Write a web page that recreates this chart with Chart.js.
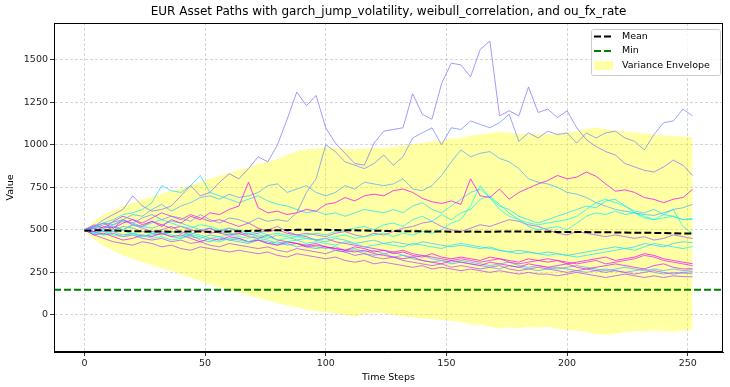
<!DOCTYPE html>
<html>
<head>
<meta charset="utf-8">
<script src="https://cdn.jsdelivr.net/npm/chart.js@4.4.0/dist/chart.umd.min.js"></script>
<style>
  html, body { margin: 0; padding: 0; background: #fff; }
</style>
</head>
<body>
<canvas id="pathChart" width="730" height="387"></canvas>
<script>

var chartTitle = "EUR Asset Paths with garch_jump_volatility, weibull_correlation, and ou_fx_rate";

// sampled time steps (every 4th step of 0..252)
var timeSteps = [
  0, 4, 8, 12, 16, 20, 24, 28, 32, 36, 40, 44, 48, 52, 56, 60,
  64, 68, 72, 76, 80, 84, 88, 92, 96, 100, 104, 108, 112, 116, 120, 124,
  128, 132, 136, 140, 144, 148, 152, 156, 160, 164, 168, 172, 176, 180, 184, 188,
  192, 196, 200, 204, 208, 212, 216, 220, 224, 228, 232, 236, 240, 244, 248, 252
];

var xTicks = [0, 50, 100, 150, 200, 250];
var yTicks = [0, 250, 500, 750, 1000, 1250, 1500];

var meanValues = [
  495, 497, 498, 496, 494, 492, 491, 490,
  490, 489, 490, 491, 490, 489, 490, 491,
  492, 494, 495, 497, 498, 499, 500, 501,
  501, 500, 499, 498, 497, 496, 495, 494,
  493, 492, 492, 491, 490, 490, 489, 489,
  490, 489, 489, 490, 490, 490, 489, 489,
  489, 488, 488, 487, 487, 486, 486, 485,
  484, 483, 483, 482, 481, 480, 479, 478
];

var minValue = 148;

var envelopeUpper = [
  500, 550, 590, 615, 640, 660, 680, 695,
  712, 728, 745, 762, 780, 800, 818, 835,
  852, 868, 885, 900, 915, 940, 962, 972,
  978, 985, 980, 976, 972, 978, 982, 980,
  988, 995, 1005, 1010, 1018, 1025, 1035, 1042,
  1055, 1062, 1070, 1078, 1070, 1065, 1060, 1065,
  1062, 1068, 1072, 1080, 1095, 1100, 1092, 1085,
  1078, 1072, 1068, 1060, 1055, 1052, 1048, 1045
];

var envelopeLower = [
  490, 445, 405, 378, 350, 330, 310, 292,
  275, 258, 238, 220, 200, 180, 162, 148,
  132, 116, 100, 85, 70, 55, 45, 30,
  22, 15, 10, 0, -10, 5, 12, 8,
  0, -8, -15, -20, -25, -30, -35, -42,
  -55, -60, -70, -80, -72, -78, -70, -75,
  -68, -80, -88, -92, -100, -112, -118, -110,
  -100, -95, -98, -92, -95, -100, -92, -88
];

var path01 = [
  500, 520, 560, 590, 620, 700, 640, 610,
  620, 640, 700, 760, 700, 720, 780, 830,
  800, 860, 930, 900, 1000, 1150, 1310, 1230,
  1290, 1100, 1010, 950, 890, 880, 1010, 1080,
  1090, 1100, 1300, 1180, 1150, 1360, 1480, 1470,
  1400, 1560, 1610, 1170, 1200, 1170, 1340, 1190,
  1210, 1160, 1200, 1100, 1030, 990, 960, 940,
  890, 870, 850, 840, 870, 910, 880, 820
];
var path02 = [
  500, 510, 530, 545, 560, 540, 570, 590,
  560, 580, 570, 550, 590, 560, 540, 570,
  560, 540, 570, 550, 560, 550, 600, 720,
  800, 1000, 960, 900, 880, 860, 890, 940,
  880, 930, 1040, 1070, 1100, 1000, 1100, 1090,
  1140, 1120, 1100, 1130, 1180, 1020, 1070, 1040,
  1080, 1060, 1070, 1010, 1070, 1040, 1070, 1080,
  1040, 1020, 970, 1060, 1130, 1140, 1210, 1170
];
var path03 = [
  500, 490, 520, 510, 540, 560, 530, 550,
  520, 560, 540, 580, 560, 600, 590, 620,
  640, 780, 630, 600, 610, 590, 600, 620,
  610, 650, 660, 690, 670, 700, 710, 700,
  730, 740, 720, 685, 665, 655, 670, 650,
  800, 700, 690, 740, 680, 720, 745, 770,
  790, 820, 800, 810, 840, 815, 770, 727,
  735, 720, 690, 679, 660, 680, 690, 738
];
var path04 = [
  500, 520, 540, 530, 560, 590, 580, 620,
  650, 610, 640, 660, 690, 700, 680, 710,
  690, 700, 720, 760, 770, 720, 740, 760,
  720, 700, 720, 760, 740, 780, 770, 760,
  770, 800, 740, 730, 760, 820, 900, 970,
  930, 950, 960, 920, 900, 860, 800, 780,
  770, 750, 720, 710, 690, 660, 640, 620,
  610, 600, 590, 585, 600, 620, 630, 650
];
var path05 = [
  500, 520, 540, 560, 590, 600, 620, 660,
  760, 730, 720, 760, 820, 720, 700, 680,
  660, 680, 700, 670, 650, 640, 620, 600,
  610, 590, 600, 580, 600, 620, 610, 600,
  620, 600, 640, 660, 620, 600, 640, 680,
  720, 740, 690, 640, 620, 580, 560, 540,
  560, 580, 600, 620, 640, 630, 670, 680,
  640, 610, 600, 620, 590, 580, 560, 567
];
var path06 = [
  500, 480, 470, 490, 500, 470, 460, 480,
  490, 470, 460, 480, 470, 450, 460, 470,
  460, 450, 470, 460, 440, 450, 460, 450,
  440, 450, 460, 470, 450, 460, 470, 480,
  460, 480, 470, 490, 480, 500, 540, 560,
  640, 760, 690, 620, 580, 560, 540, 530,
  540, 550, 560, 580, 620, 660, 680, 660,
  640, 600, 580, 560, 570, 580, 560, 561
];
var path07 = [
  500, 490, 510, 520, 500, 530, 520, 540,
  560, 540, 520, 510, 530, 520, 500, 510,
  500, 480, 490, 470, 480, 470, 460, 470,
  480, 470, 490, 500, 510, 520, 500, 530,
  540, 520, 560, 580, 550, 590, 560, 600,
  620, 680, 700, 650, 600, 560, 520, 500,
  510, 520, 500, 540, 580, 600, 590, 610,
  590, 600, 570, 560, 590, 620, 520, 478
];
var path08 = [
  500, 480, 490, 470, 460, 480, 470, 450,
  460, 440, 450, 470, 460, 440, 430, 450,
  440, 430, 450, 440, 420, 430, 440, 420,
  430, 420, 410, 430, 420, 400, 410, 420,
  410, 400, 420, 410, 400, 390, 410, 420,
  410, 400, 390, 380, 370, 360, 370, 360,
  350, 360, 350, 340, 350, 360, 370, 380,
  390, 380, 400, 420, 410, 400, 390, 402
];
var path09 = [
  500, 510, 490, 520, 500, 530, 510, 490,
  500, 520, 490, 470, 500, 480, 490, 510,
  490, 470, 480, 500, 520, 490, 470, 480,
  470, 460, 480, 490, 470, 460, 480, 470,
  490, 510, 520, 540, 550, 520, 500, 490,
  510, 530, 520, 540, 560, 550, 530, 520,
  500, 480, 470, 490, 480, 470, 460, 470,
  460, 450, 460, 440, 450, 470, 460, 449
];
var path10 = [
  500, 470, 480, 460, 440, 450, 470, 460,
  480, 460, 470, 450, 430, 450, 440, 460,
  450, 430, 440, 420, 410, 430, 420, 400,
  410, 400, 390, 380, 400, 390, 370, 380,
  360, 370, 350, 340, 360, 340, 330, 340,
  330, 320, 340, 330, 320, 310, 330, 320,
  310, 320, 300, 310, 320, 330, 340, 320,
  330, 340, 360, 350, 330, 320, 310, 301
];
var path11 = [
  500, 520, 540, 510, 560, 530, 520, 550,
  530, 510, 520, 500, 490, 510, 480, 470,
  480, 460, 450, 470, 440, 430, 420, 410,
  420, 400, 390, 380, 370, 380, 360, 350,
  340, 330, 340, 320, 310, 300, 320, 310,
  300, 290, 310, 300, 290, 280, 300, 290,
  280, 290, 300, 280, 270, 280, 290, 300,
  290, 280, 270, 290, 300, 280, 270, 272
];
var path12 = [
  500, 490, 470, 480, 460, 470, 450, 440,
  450, 430, 440, 420, 430, 410, 400, 420,
  410, 400, 390, 400, 380, 370, 390, 380,
  370, 360, 380, 370, 350, 360, 340, 330,
  340, 320, 310, 300, 290, 300, 280, 290,
  280, 270, 280, 290, 270, 260, 270, 280,
  270, 260, 250, 260, 270, 260, 250, 260,
  250, 240, 250, 260, 250, 240, 250, 254
];
var path13 = [
  500, 510, 490, 500, 520, 510, 490, 480,
  470, 490, 480, 460, 450, 470, 460, 440,
  450, 430, 440, 420, 430, 410, 420, 400,
  390, 400, 380, 370, 380, 360, 350, 360,
  340, 350, 330, 320, 310, 320, 300, 310,
  300, 290, 280, 270, 290, 280, 270, 260,
  270, 280, 270, 260, 250, 260, 270, 260,
  250, 260, 270, 250, 240, 250, 245, 242
];
var path14 = [
  500, 470, 450, 430, 420, 410, 430, 420,
  400, 410, 390, 380, 400, 390, 380, 370,
  380, 370, 360, 370, 350, 340, 360, 350,
  340, 330, 340, 320, 310, 320, 300, 310,
  300, 290, 280, 290, 270, 280, 270, 260,
  270, 260, 250, 260, 250, 240, 250, 240,
  240, 230, 240, 250, 240, 230, 220, 230,
  240, 230, 220, 230, 220, 230, 225, 224
];
var path15 = [
  500, 530, 510, 550, 580, 560, 540, 570,
  600, 580, 560, 590, 570, 550, 560, 540,
  520, 540, 510, 490, 500, 480, 470, 460,
  440, 450, 430, 420, 410, 400, 390, 380,
  370, 380, 360, 350, 340, 330, 320, 330,
  320, 310, 320, 330, 310, 300, 310, 320,
  330, 320, 310, 300, 310, 320, 300, 310,
  320, 330, 350, 340, 320, 310, 300, 290
];
var path16 = [
  500, 480, 500, 490, 470, 480, 460, 470,
  480, 460, 450, 470, 440, 430, 450, 440,
  430, 420, 440, 430, 410, 420, 400, 410,
  400, 390, 400, 380, 390, 370, 380, 360,
  370, 350, 340, 350, 330, 320, 310, 320,
  310, 300, 290, 300, 310, 290, 280, 290,
  280, 270, 280, 290, 280, 270, 260, 270,
  280, 270, 260, 270, 260, 270, 260, 265
];
var path17 = [
  500, 520, 510, 530, 550, 540, 520, 510,
  530, 550, 540, 520, 500, 510, 490, 480,
  470, 480, 460, 450, 470, 460, 440, 450,
  440, 430, 450, 440, 420, 430, 440, 420,
  430, 420, 410, 430, 420, 410, 400, 410,
  400, 390, 400, 380, 370, 380, 370, 360,
  370, 360, 350, 360, 370, 380, 390, 400,
  390, 400, 420, 410, 400, 420, 430, 425
];

var assetPaths = [path01, path02, path03, path04, path05, path06, path07, path08, path09,
                  path10, path11, path12, path13, path14, path15, path16, path17];

// "cool" colormap picks, slightly transparent
var pathColors = [
  "rgba(140,115,255,0.75)", "rgba(115,140,255,0.75)", "rgba(255,0,255,0.75)",
  "rgba(77,178,255,0.75)", "rgba(31,224,255,0.75)", "rgba(0,255,255,0.75)",
  "rgba(13,242,255,0.75)", "rgba(20,235,255,0.75)", "rgba(166,89,255,0.75)",
  "rgba(255,0,255,0.75)", "rgba(230,25,255,0.75)", "rgba(178,77,255,0.75)",
  "rgba(89,166,255,0.75)", "rgba(191,64,255,0.75)", "rgba(217,38,255,0.75)",
  "rgba(77,178,255,0.75)", "rgba(51,204,255,0.75)"
];

var xMin = -12.6, xMax = 264.6;
var yMin = -218, yMax = 1716;

var FONT = "'DejaVu Sans', sans-serif";

function toPoints(values) {
  return timeSteps.map(function (t, i) { return { x: t, y: values[i] }; });
}

var datasets = [];

datasets.push({
  label: "Mean",
  data: toPoints(meanValues),
  borderColor: "#000",
  borderWidth: 2,
  borderDash: [7, 3],
  pointRadius: 0,
  order: 0,
  inLegend: true
});

datasets.push({
  label: "Min",
  data: [{ x: xMin, y: minValue }, { x: xMax, y: minValue }],
  borderColor: "#008000",
  borderWidth: 2,
  borderDash: [7, 3],
  pointRadius: 0,
  order: 1,
  inLegend: true
});

assetPaths.forEach(function (p, i) {
  datasets.push({
    label: "Path " + (i + 1),
    data: toPoints(p),
    borderColor: pathColors[i],
    borderWidth: 1,
    pointRadius: 0,
    order: 2
  });
});

datasets.push({
  label: "Variance Envelope",
  data: toPoints(envelopeUpper),
  borderWidth: 0,
  borderColor: "rgba(0,0,0,0)",
  backgroundColor: "rgba(255,255,0,0.36)",
  pointRadius: 0,
  fill: "+1",
  order: 5,
  inLegend: true
});
datasets.push({
  label: "lower",
  data: toPoints(envelopeLower),
  borderWidth: 0,
  borderColor: "rgba(0,0,0,0)",
  pointRadius: 0,
  fill: false,
  order: 5
});

// title over the plot area, frame and legend box like matplotlib
var decorations = {
  id: "decorations",
  afterDatasetsDraw: function (chart) {
    var ctx = chart.ctx, a = chart.chartArea;
    ctx.save();
    ctx.strokeStyle = "#000";
    ctx.lineWidth = 1;
    ctx.strokeRect(a.left + 0.5, a.top + 0.5, a.right - a.left - 1, a.bottom - a.top - 1);

    ctx.fillStyle = "#000";
    ctx.font = "12px " + FONT;
    ctx.textAlign = "center";
    ctx.textBaseline = "middle";
    ctx.fillText(chartTitle, (a.left + a.right) / 2, a.top - 11);

    var items = chart.data.datasets.filter(function (d) { return d.inLegend; });
    var bw = 129, bh = 46;
    var bx = a.right - 3 - bw, by = a.top + 6;
    ctx.beginPath();
    ctx.roundRect(bx + 0.5, by + 0.5, bw, bh, 2);
    ctx.fillStyle = "rgba(255,255,255,0.8)";
    ctx.fill();
    ctx.strokeStyle = "#cccccc";
    ctx.lineWidth = 1;
    ctx.stroke();

    ctx.font = "9.5px " + FONT;
    ctx.textAlign = "left";
    items.forEach(function (d, i) {
      var cy = by + 7.5 + i * 14.5;
      var hx = bx + 3;
      if (d.fill) {
        ctx.fillStyle = d.backgroundColor;
        ctx.fillRect(hx, cy - 4.5, 19, 9);
      } else {
        ctx.beginPath();
        ctx.setLineDash(d.borderDash);
        ctx.strokeStyle = d.borderColor;
        ctx.lineWidth = d.borderWidth;
        ctx.moveTo(hx, cy);
        ctx.lineTo(hx + 19, cy);
        ctx.stroke();
        ctx.setLineDash([]);
      }
      ctx.fillStyle = "#000";
      ctx.fillText(d.label, bx + 31, cy);
    });
    ctx.restore();
  }
};

function axisStyle(title, fitKey, fitSize, ticks) {
  return {
    type: "linear",
    ticks: {
      color: "#222",
      font: { family: FONT, size: 9.5 },
      padding: 2,
      includeBounds: false,
      autoSkip: false,
      callback: function (v) { return String(v); }
    },
    afterBuildTicks: function (scale) {
      scale.ticks = ticks.map(function (v) { return { value: v }; });
    },
    grid: {
      color: "rgba(176,176,176,0.75)",
      lineWidth: 0.7,
      tickLength: 4,
      tickColor: "#000",
      tickWidth: 0.8
    },
    border: { display: true, color: "#000", width: 1, dash: [3, 2] },
    title: {
      display: true,
      text: title,
      color: "#000",
      font: { family: FONT, size: 9.5 },
      padding: { top: 5, bottom: 4 }
    },
    afterFit: function (scale) { scale[fitKey] = fitSize; }
  };
}

var xScale = axisStyle("Time Steps", "height", 35, xTicks);
xScale.min = xMin; xScale.max = xMax;
var yScale = axisStyle("Value", "width", 54, yTicks);
yScale.min = yMin; yScale.max = yMax;

new Chart("pathChart", {
  type: "line",
  data: { datasets: datasets },
  options: {
    responsive: false,
    devicePixelRatio: 1,
    animation: false,
    events: [],
    layout: { padding: { top: 23, right: 7, left: 0, bottom: 0 } },
    plugins: {
      legend: { display: false },
      title: { display: false },
      tooltip: { enabled: false }
    },
    scales: { x: xScale, y: yScale }
  },
  plugins: [decorations]
});
</script>
</body>
</html>
